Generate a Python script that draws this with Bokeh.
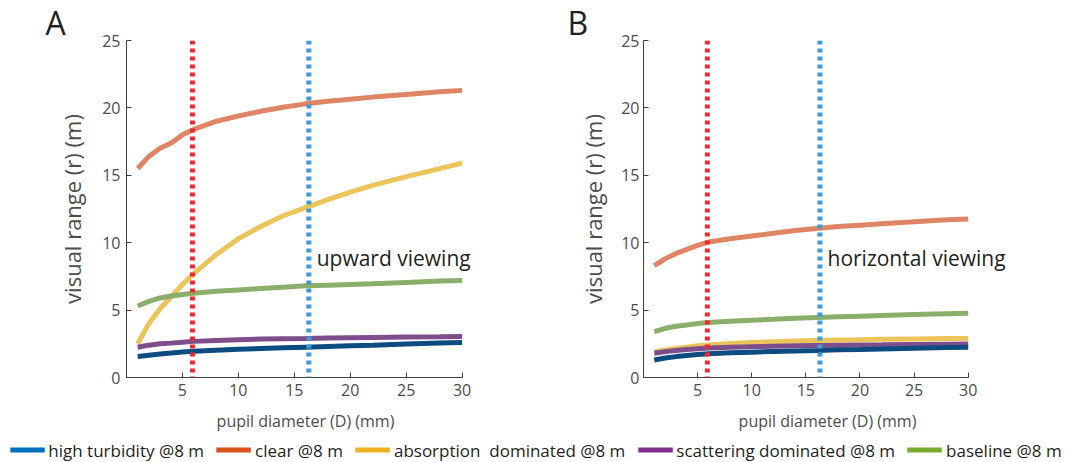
from bokeh.plotting import figure
from bokeh.models import Range1d, Span, Label, Legend, LegendItem, FixedTicker, Title
from bokeh.layouts import column, row
from bokeh.embed import file_html
from bokeh.resources import INLINE

# ---------------- data ----------------
pupil_D = [1, 2, 3, 4, 5, 6, 8, 10, 12, 14, 16, 18, 20, 22, 25, 28, 30]

series_names = ["high turbidity @8 m", "clear @8 m", "absorption  dominated @8 m",
                "scattering dominated @8 m", "baseline @8 m"]

# Panel A: upward viewing
up_turbidity = [1.55, 1.65, 1.75, 1.82, 1.9, 1.95, 2.03, 2.1, 2.15, 2.2, 2.25, 2.3, 2.35, 2.4, 2.48, 2.56, 2.6]
up_clear = [15.5, 16.4, 17.0, 17.4, 18.0, 18.4, 19.0, 19.4, 19.75, 20.05, 20.3, 20.5, 20.65, 20.8, 21.0, 21.2, 21.3]
up_absorption = [2.5, 4.0, 5.1, 6.0, 6.9, 7.7, 9.1, 10.3, 11.2, 12.0, 12.6, 13.2, 13.75, 14.25, 14.9, 15.5, 15.9]
up_scattering = [2.25, 2.4, 2.5, 2.55, 2.62, 2.68, 2.75, 2.8, 2.85, 2.88, 2.9, 2.93, 2.95, 2.97, 3.0, 3.02, 3.04]
up_baseline = [5.3, 5.65, 5.9, 6.05, 6.15, 6.25, 6.4, 6.5, 6.6, 6.7, 6.8, 6.85, 6.9, 6.95, 7.05, 7.15, 7.2]

# Panel B: horizontal viewing
hz_turbidity = [1.3, 1.45, 1.55, 1.63, 1.7, 1.76, 1.83, 1.88, 1.93, 1.97, 2.0, 2.05, 2.08, 2.12, 2.17, 2.22, 2.25]
hz_clear = [8.3, 8.8, 9.2, 9.5, 9.8, 10.05, 10.3, 10.5, 10.7, 10.9, 11.05, 11.2, 11.3, 11.4, 11.55, 11.7, 11.75]
hz_absorption = [1.9, 2.05, 2.15, 2.25, 2.35, 2.42, 2.52, 2.6, 2.65, 2.7, 2.75, 2.78, 2.8, 2.83, 2.86, 2.89, 2.9]
hz_scattering = [1.8, 1.92, 2.0, 2.07, 2.13, 2.18, 2.24, 2.28, 2.32, 2.35, 2.38, 2.4, 2.42, 2.43, 2.45, 2.47, 2.48]
hz_baseline = [3.4, 3.65, 3.8, 3.9, 4.0, 4.08, 4.18, 4.25, 4.32, 4.4, 4.45, 4.5, 4.55, 4.6, 4.67, 4.73, 4.77]

pupil_marks = [5.9, 16.3]          # dotted reference lines (mm)
x_ticks = [5, 10, 15, 20, 25, 30]
y_ticks = [0, 5, 10, 15, 20, 25]
note_pos = (17.0, 8.9)             # position of panel annotation text

# ---------------- style ----------------
FONT = "Open Sans"
curve_colors = ["#0D4C80", "#DF8465", "#EBC45A", "#7E4E8C", "#8BAE6A"]
legend_colors = ["#0072BD", "#D95319", "#EDB120", "#7E2F8E", "#77AC30"]
mark_colors = ["#EE2A30", "#3D9BD8"]
GRAY = "#4D4D4D"
DARK = "#231F20"


def make_panel(letter, note, values, width, border_left, border_right, x_end,
               letter_offset, tick_standoff, label_standoff):
    p = figure(width=width, height=437, output_backend="svg", toolbar_location=None,
               x_range=Range1d(0, x_end), y_range=Range1d(0, 25),
               min_border_left=border_left, min_border_right=border_right,
               min_border_top=40, min_border_bottom=60)
    p.outline_line_color = None
    p.grid.visible = False
    p.background_fill_color = "white"
    p.border_fill_color = "white"
    p.title = Title(text=letter, align="left", offset=letter_offset,
                    text_font=FONT, text_font_size="32px", text_font_style="normal",
                    text_color=DARK, standoff=-6)

    draw_order = [2, 3, 0, 1, 4]
    for i in draw_order:
        p.line(pupil_D, values[i], line_color=curve_colors[i], line_width=5)

    for loc, c in zip(pupil_marks, mark_colors):
        p.add_layout(Span(location=loc, dimension="height", line_color=c,
                          line_width=5, line_dash="4 4"))

    p.xaxis.ticker = FixedTicker(ticks=x_ticks)
    p.yaxis.ticker = FixedTicker(ticks=y_ticks)
    p.xaxis.bounds = (0, 30)
    p.xaxis.axis_label = "pupil diameter (D) (mm)"
    p.yaxis.axis_label = "visual range (r) (m)"
    for ax in (p.xaxis, p.yaxis):
        ax.major_tick_in = 5
        ax.major_tick_out = 0
        ax.minor_tick_line_color = None
        ax.axis_line_color = "#404040"
        ax.major_tick_line_color = "#404040"
        ax.major_label_text_font = FONT
        ax.major_label_text_font_size = "16px"
        ax.major_label_text_color = GRAY
        ax.axis_label_text_font = FONT
        ax.axis_label_text_font_style = "normal"
        ax.axis_label_text_color = GRAY
    p.xaxis.axis_label_text_font_size = "16px"
    p.yaxis.axis_label_text_font_size = "22px"
    p.xaxis.major_label_standoff = 6
    p.xaxis.axis_label_standoff = 11
    p.yaxis.major_label_standoff = tick_standoff
    p.yaxis.axis_label_standoff = label_standoff

    p.add_layout(Label(x=note_pos[0], y=note_pos[1], text=note, text_font=FONT,
                       text_font_size="21px", text_color=DARK, text_baseline="middle"))
    return p


pA = make_panel("A", "upward viewing",
                [up_turbidity, up_clear, up_absorption, up_scattering, up_baseline],
                535, 126, 51, 32.0, -81, 6, 12)
pB = make_panel("B", "horizontal viewing",
                [hz_turbidity, hz_clear, hz_absorption, hz_scattering, hz_baseline],
                536, 108, 60, 34.0, -76, 4, 10)

# legend strip: key lines are drawn from the data but kept outside this strip's view
pL = figure(width=1071, height=25, output_backend="svg", toolbar_location=None,
            x_range=Range1d(100, 101), y_range=Range1d(100, 101), min_border=0)
pL.axis.visible = False
pL.grid.visible = False
pL.outline_line_color = None
key_values = [up_turbidity, up_clear, up_absorption, up_scattering, up_baseline]
items = []
for name, c, vals in zip(series_names, legend_colors, key_values):
    r = pL.line(pupil_D, vals, line_color=c, line_width=5)
    items.append(LegendItem(label=name, renderers=[r]))
leg = Legend(items=items, orientation="horizontal", location="center",
             label_text_font=FONT, label_text_font_size="17px", label_text_color=DARK,
             glyph_width=35, glyph_height=20, label_height=20, label_standoff=4,
             spacing=12, padding=0, margin=0, border_line_color=None,
             background_fill_alpha=0)
pL.add_layout(leg, "center")

layout = column(row(pA, pB), pL)
open("out.html", "w").write(file_html(layout, INLINE))
